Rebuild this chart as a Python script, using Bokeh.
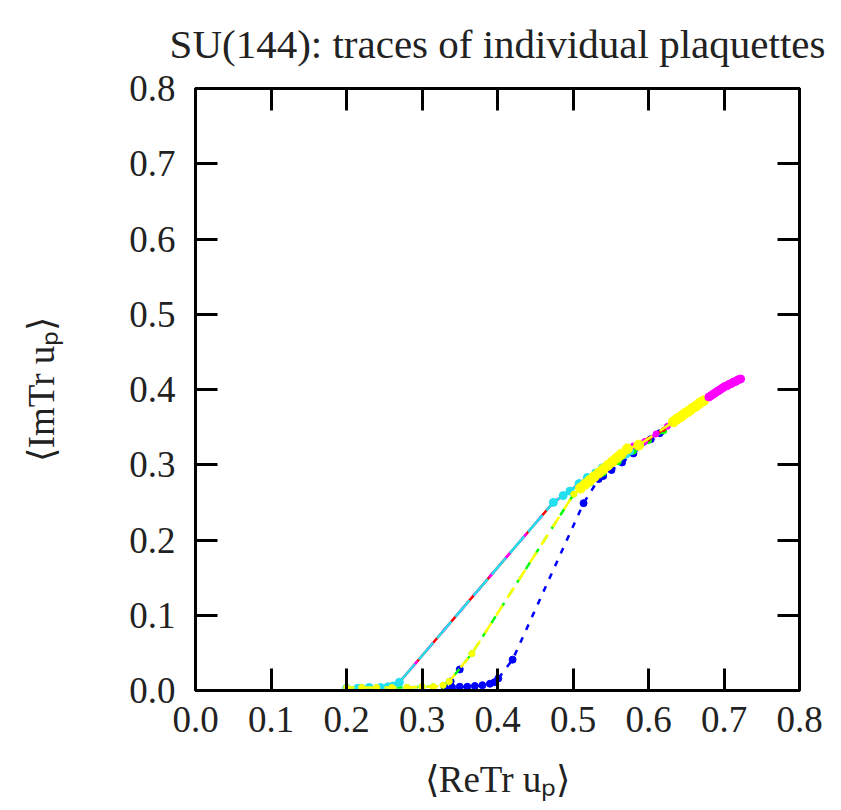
from bokeh.plotting import figure
from bokeh.models import Range1d, FixedTicker, PrintfTickFormatter, LinearAxis
from bokeh.embed import file_html
from bokeh.resources import INLINE

# ---------------- data ----------------
ticks = [0.0, 0.1, 0.2, 0.3, 0.4, 0.5, 0.6, 0.7, 0.8]

upper_x = [0.200, 0.215, 0.230, 0.245, 0.255, 0.262, 0.270, 0.474, 0.487, 0.496,
           0.508, 0.519, 0.530, 0.539, 0.550, 0.560, 0.570]
upper_y = [0.003, 0.003, 0.004, 0.004, 0.005, 0.006, 0.011, 0.250, 0.259, 0.265,
           0.275, 0.283, 0.289, 0.296, 0.302, 0.309, 0.314]

red_x = upper_x + [0.580, 0.600, 0.620]
red_y = upper_y + [0.324, 0.334, 0.347]

magenta_mid_x = [0.575, 0.580, 0.595, 0.610, 0.625, 0.640, 0.655, 0.668]
magenta_mid_y = [0.320, 0.325, 0.331, 0.341, 0.351, 0.361, 0.371, 0.380]
magenta_tip_x = [0.680, 0.683, 0.686, 0.689, 0.692, 0.695, 0.698, 0.701, 0.704,
                 0.707, 0.710, 0.713, 0.716, 0.719, 0.722]
magenta_tip_y = [0.390, 0.392, 0.394, 0.396, 0.398, 0.400, 0.402, 0.404, 0.405,
                 0.407, 0.408, 0.410, 0.411, 0.413, 0.414]

cyan_x = upper_x + [0.575]
cyan_y = upper_y + [0.318]

mid_x = [0.200, 0.220, 0.240, 0.260, 0.280, 0.300, 0.315, 0.328, 0.336, 0.366, 0.501, 0.510]
mid_y = [0.004, 0.004, 0.004, 0.004, 0.004, 0.005, 0.005, 0.007, 0.012, 0.049, 0.261, 0.267]

green_x = mid_x + [0.523, 0.540, 0.560, 0.580, 0.600, 0.620]
green_y = mid_y + [0.276, 0.289, 0.304, 0.318, 0.332, 0.345]

yellow_band_x = [0.510, 0.516, 0.522, 0.528, 0.534, 0.540, 0.546, 0.552, 0.558, 0.564,
                 0.572, 0.587,
                 0.633, 0.638, 0.643, 0.648, 0.653, 0.658, 0.663, 0.668, 0.673]
yellow_band_y = [0.269, 0.274, 0.279, 0.284, 0.289, 0.294, 0.299, 0.304, 0.309, 0.314,
                 0.321, 0.326,
                 0.357, 0.361, 0.364, 0.368, 0.371, 0.375, 0.378, 0.382, 0.385]

blue_x = [0.330, 0.340, 0.350, 0.360, 0.370, 0.380, 0.390, 0.396, 0.401, 0.420, 0.514,
          0.534, 0.540, 0.551, 0.565, 0.580, 0.603, 0.615]
blue_y = [0.004, 0.004, 0.005, 0.005, 0.006, 0.007, 0.009, 0.011, 0.016, 0.041, 0.249,
          0.281, 0.285, 0.293, 0.303, 0.315, 0.334, 0.342]
blue_extra_x = [0.338, 0.350]
blue_extra_y = [0.012, 0.028]

title_text = "SU(144): traces of individual plaquettes"
xlabel = "⟨ReTr uₚ⟩"
ylabel = "⟨ImTr uₚ⟩"

# ---------------- figure ----------------
FONT = "Liberation Serif"
p = figure(width=841, height=810, output_backend="svg", toolbar_location=None,
           x_range=Range1d(0, 0.8), y_range=Range1d(0, 0.8),
           min_border_left=195, min_border_right=42, min_border_top=87,
           min_border_bottom=120, title=title_text)
p.background_fill_color = "white"
p.border_fill_color = "white"
p.grid.visible = False
p.outline_line_color = "black"
p.outline_line_width = 3
p.outline_line_alpha = 1

p.title.text_font = FONT
p.title.text_font_size = "41px"
p.title.text_font_style = "normal"
p.title.align = "center"
p.title.vertical_align = "top"
p.title.text_color = "#222222"
p.title.standoff = 40

ticker = FixedTicker(ticks=ticks)
fmt = PrintfTickFormatter(format="%.1f")

for ax in (p.xaxis[0], p.yaxis[0]):
    ax.ticker = ticker
    ax.formatter = fmt
    ax.axis_line_width = 3
    ax.major_tick_line_width = 3
    ax.major_tick_in = 22
    ax.major_tick_out = 0
    ax.minor_tick_line_color = None
    ax.major_label_text_font = FONT
    ax.major_label_text_font_size = "37px"
    ax.major_label_text_color = "#222222"
    ax.axis_label_text_font = FONT
    ax.axis_label_text_font_size = "37px"
    ax.axis_label_text_font_style = "normal"
    ax.axis_label_text_color = "#222222"

p.xaxis[0].axis_label = xlabel
p.yaxis[0].axis_label = ylabel
p.xaxis[0].major_label_standoff = 16
p.yaxis[0].major_label_standoff = 20
p.xaxis[0].axis_label_standoff = 24
p.yaxis[0].axis_label_standoff = 64

for loc in ("above", "right"):
    ax = LinearAxis(ticker=ticker, formatter=fmt,
                    major_label_overrides={t: "" for t in ticks})
    ax.axis_line_width = 3
    ax.major_tick_line_width = 3
    ax.major_tick_in = 22
    ax.major_tick_out = 0
    ax.minor_tick_line_color = None
    ax.major_label_standoff = 0
    ax.major_label_text_font_size = "1px"
    p.add_layout(ax, loc)

BLUE, GREEN, YELLOW = "#0000ff", "#00ff00", "#ffff00"
RED, MAGENTA, CYAN = "#ff0000", "#ff00ff", "#22e0f0"

# ---------------- series ----------------
# lower branch (blue, dashed)
p.line(blue_x, blue_y, line_color=BLUE, line_width=2.5, line_dash="6 8")
p.scatter(blue_x, blue_y, size=7, color=BLUE)
p.scatter(blue_extra_x, blue_extra_y, size=7, color=BLUE)

# middle branch (green, dashed)
p.line(green_x, green_y, line_color=GREEN, line_width=2.5, line_dash="8 8")
p.scatter(green_x, green_y, size=6, color=GREEN)

# upper branch (red, magenta, cyan)
p.line(red_x, red_y, line_color=RED, line_width=2.5)
p.scatter(red_x, red_y, size=4, color=RED)
p.line(upper_x + magenta_mid_x + magenta_tip_x, upper_y + magenta_mid_y + magenta_tip_y,
       line_color=MAGENTA, line_width=2.5, line_dash="10 14")
p.scatter(magenta_mid_x, magenta_mid_y, size=6, color=MAGENTA)
p.line(cyan_x, cyan_y, line_color=CYAN, line_width=2.5, line_dash="22 6")
p.scatter(cyan_x, cyan_y, size=8, color=CYAN)

# yellow on top of the middle branch
p.line(mid_x + yellow_band_x, mid_y + yellow_band_y, line_color=YELLOW, line_width=2.5,
       line_dash="12 9", line_dash_offset=4)
p.scatter(mid_x, mid_y, size=6, color=YELLOW)
p.scatter(yellow_band_x, yellow_band_y, size=10, color=YELLOW)

# magenta tip on top
p.scatter(magenta_tip_x, magenta_tip_y, size=8, color=MAGENTA)

open("out.html", "w").write(file_html(p, INLINE))
